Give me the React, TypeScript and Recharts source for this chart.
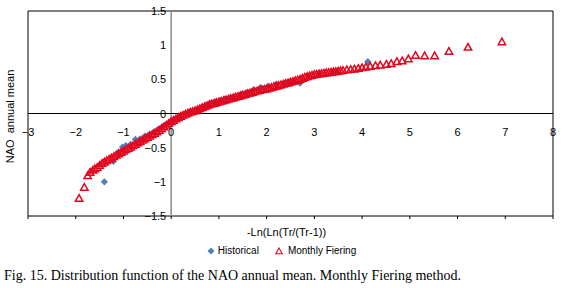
import { ScatterChart, Scatter, XAxis, YAxis, ReferenceLine, ReferenceArea } from "recharts";

const W = 563;
const CHART_H = 262;
const AXIS_SIZE = 1;
const MARGIN = { top: 11, right: 10, bottom: 46 - AXIS_SIZE, left: 28 - AXIS_SIZE };
const PLOT_LEFT = MARGIN.left + AXIS_SIZE;
const PLOT_W = W - PLOT_LEFT - MARGIN.right;
const PLOT_H = CHART_H - MARGIN.top - MARGIN.bottom - AXIS_SIZE;

const X_DOMAIN: [number, number] = [-3, 8];
const Y_DOMAIN: [number, number] = [-1.5, 1.5];
const X_TICKS = [-3, -2, -1, 0, 1, 2, 3, 4, 5, 6, 7, 8];
const Y_TICKS = [-1.5, -1, -0.5, 0, 0.5, 1, 1.5];

const X_TITLE = "-Ln(Ln(Tr/(Tr-1))";
const Y_TITLE = "NAO  annual mean";
const CAPTION = "Fig. 15. Distribution function of the NAO annual mean. Monthly Fiering method.";

const BLUE = "#4F81BD";
const RED = "#E3061C";
const FONT = "'Liberation Sans', Arial, sans-serif";

// Historical series (blue diamonds)
const historicalX = [
  -1.4, -1.21, -1.1, -1.02, -0.95, -0.85, -0.75, -0.65, -0.55, -0.45, -0.36, -0.27, -0.18, -0.1,
  -0.02, 0.06, 0.14, 0.22, 0.3, 0.38, 0.46, 0.55, 0.64, 0.73, 0.82, 0.92, 1.02, 1.12, 1.23, 1.35,
  1.47, 1.6, 1.73, 1.87, 2.03, 2.2, 2.39, 2.55, 2.7, 2.88, 3.1, 3.42, 4.12,
];
const historicalY = [
  -1.0, -0.7, -0.56, -0.49, -0.47, -0.45, -0.38, -0.37, -0.33, -0.3, -0.27, -0.23, -0.19, -0.16,
  -0.12, -0.09, -0.06, -0.03, -0.01, 0.02, 0.03, 0.06, 0.09, 0.12, 0.15, 0.17, 0.19, 0.21, 0.23, 0.25,
  0.28, 0.31, 0.35, 0.38, 0.4, 0.43, 0.45, 0.47, 0.445, 0.54, 0.58, 0.61, 0.76,
];

// Monthly Fiering series (red hollow triangles)
const fieringX = [
  -1.93, -1.82, -1.75, -1.7, -1.64, -1.6, -1.55, -1.5, -1.45, -1.4, -1.35, -1.3, -1.25, -1.2, -1.15,
  -1.1, -1.05, -1.0, -0.95, -0.9, -0.85, -0.8, -0.75, -0.7, -0.65, -0.6, -0.55, -0.5, -0.45, -0.4,
  -0.35, -0.3, -0.25, -0.2, -0.15, -0.1, -0.05, 0.0, 0.05, 0.1, 0.15, 0.2, 0.25, 0.3, 0.35, 0.4,
  0.45, 0.5, 0.55, 0.6, 0.65, 0.7, 0.75, 0.8, 0.85, 0.9, 0.95, 1.0, 1.05, 1.1, 1.15, 1.2, 1.25,
  1.3, 1.35, 1.4, 1.45, 1.5, 1.55, 1.6, 1.65, 1.7, 1.75, 1.8, 1.85, 1.9, 1.95, 2.0, 2.05, 2.1,
  2.15, 2.2, 2.25, 2.3, 2.35, 2.4, 2.45, 2.5, 2.55, 2.6, 2.65, 2.7, 2.75, 2.8, 2.85, 2.9, 2.95,
  3.0, 3.05, 3.1, 3.15, 3.2, 3.25, 3.3, 3.35, 3.4, 3.45, 3.5, 3.55, 3.6, 3.68, 3.76, 3.84, 3.92,
  4.0, 4.08, 4.17, 4.28, 4.38, 4.51, 4.61, 4.73, 4.84, 4.97, 5.12, 5.31, 5.52, 5.82, 6.22, 6.93,
];
const fieringY = [
  -1.24, -1.08, -0.91, -0.86, -0.83, -0.81, -0.79, -0.76, -0.73, -0.71, -0.69, -0.67, -0.65, -0.63,
  -0.61, -0.59, -0.57, -0.55, -0.53, -0.51, -0.49, -0.47, -0.45, -0.43, -0.41, -0.39, -0.37, -0.35,
  -0.33, -0.31, -0.29, -0.27, -0.245, -0.22, -0.195, -0.17, -0.145, -0.12, -0.1, -0.08, -0.06, -0.04,
  -0.025, -0.01, 0.005, 0.02, 0.03, 0.04, 0.055, 0.07, 0.085, 0.1, 0.115, 0.13, 0.14, 0.15, 0.16,
  0.17, 0.18, 0.19, 0.2, 0.21, 0.22, 0.23, 0.24, 0.25, 0.26, 0.27, 0.28, 0.29, 0.3, 0.31, 0.32,
  0.33, 0.34, 0.35, 0.355, 0.36, 0.37, 0.38, 0.39, 0.4, 0.41, 0.42, 0.43, 0.44, 0.45, 0.46, 0.47,
  0.48, 0.49, 0.5, 0.515, 0.53, 0.54, 0.55, 0.56, 0.57, 0.575, 0.58, 0.585, 0.59, 0.595, 0.6, 0.605,
  0.61, 0.615, 0.62, 0.625, 0.63, 0.64, 0.645, 0.65, 0.66, 0.67, 0.68, 0.69, 0.7, 0.71, 0.72, 0.73,
  0.76, 0.77, 0.8, 0.85, 0.845, 0.845, 0.91, 0.97, 1.05,
];

const historical = historicalX.map((x, i) => ({ x, y: historicalY[i] }));
const fiering = fieringX.map((x, i) => ({ x, y: fieringY[i] }));

// where the axes cross (0,0) inside the plot box
const zeroX = PLOT_LEFT + (PLOT_W * (0 - X_DOMAIN[0])) / (X_DOMAIN[1] - X_DOMAIN[0]);
const zeroY = MARGIN.top + (PLOT_H * (Y_DOMAIN[1] - 0)) / (Y_DOMAIN[1] - Y_DOMAIN[0]);

const fmt = (v: number) => (v < 0 ? `\u2212${Math.abs(v)}` : String(v));

function XTick(props: any) {
  const { x, payload } = props;
  return (
    <text x={x} y={zeroY + 18} textAnchor="middle" dominantBaseline="central" fontSize={11} fontFamily={FONT} fill="#000">
      {fmt(payload.value)}
    </text>
  );
}

function YTick(props: any) {
  const { y, payload } = props;
  return (
    <text x={zeroX - 5} y={y} textAnchor="end" dominantBaseline="central" fontSize={11} fontFamily={FONT} fill="#000">
      {fmt(payload.value)}
    </text>
  );
}

function Diamond(props: any) {
  const { cx, cy } = props;
  const r = 3.6;
  return <path d={`M${cx},${cy - r}L${cx + r},${cy}L${cx},${cy + r}L${cx - r},${cy}Z`} fill={BLUE} />;
}

function Triangle(props: any) {
  const { cx, cy } = props;
  return (
    <path
      d={`M${cx},${cy - 3.7}L${cx + 3.7},${cy + 2.9}L${cx - 3.7},${cy + 2.9}Z`}
      fill="none"
      stroke={RED}
      strokeWidth={1.5}
    />
  );
}

function YTitle() {
  const x = PLOT_LEFT - 18;
  const y = MARGIN.top + PLOT_H / 2 + 3;
  return (
    <text
      x={x}
      y={y}
      transform={`rotate(-90 ${x} ${y})`}
      textAnchor="middle"
      dominantBaseline="central"
      fontSize={11}
      fontFamily={FONT}
      fill="#000"
      style={{ whiteSpace: "pre" }}
    >
      {Y_TITLE}
    </text>
  );
}

function XTitle() {
  return (
    <text
      x={PLOT_LEFT + PLOT_W / 2 - 4}
      y={MARGIN.top + PLOT_H + 16}
      textAnchor="middle"
      dominantBaseline="central"
      fontSize={11}
      fontFamily={FONT}
      fill="#000"
    >
      {X_TITLE}
    </text>
  );
}

function LegendRow() {
  return (
    <div
      style={{
        position: "absolute",
        top: 245,
        left: 0,
        width: W,
        display: "flex",
        justifyContent: "center",
        alignItems: "center",
        fontFamily: FONT,
        fontSize: 10,
        color: "#000",
      }}
    >
      <svg width={8} height={8} style={{ marginRight: 3 }}>
        <path d="M4,0.5L7.5,4L4,7.5L0.5,4Z" fill={BLUE} />
      </svg>
      <span style={{ marginRight: 16 }}>Historical</span>
      <svg width={8} height={8} style={{ marginRight: 5 }}>
        <path d="M4,1L7.2,6.8L0.8,6.8Z" fill="none" stroke={RED} strokeWidth={1.1} />
      </svg>
      <span>Monthly Fiering</span>
    </div>
  );
}

export default function App() {
  return (
    <div style={{ position: "absolute", left: 0, top: 0, width: W, height: 288, background: "#fff" }}>
      <ScatterChart width={W} height={CHART_H} margin={MARGIN}>
        <XAxis
          type="number"
          dataKey="x"
          domain={X_DOMAIN}
          ticks={X_TICKS}
          height={AXIS_SIZE}
          axisLine={false}
          tickLine={{ stroke: "#000" }}
          tickSize={3}
          tick={XTick}
          interval={0}
          label={{ content: XTitle }}
        />
        <YAxis
          type="number"
          dataKey="y"
          domain={Y_DOMAIN}
          ticks={Y_TICKS}
          width={AXIS_SIZE}
          axisLine={false}
          tickLine={false}
          tick={YTick}
          interval={0}
          label={{ content: YTitle }}
        />
        <ReferenceArea x1={X_DOMAIN[0]} x2={X_DOMAIN[1]} y1={Y_DOMAIN[0]} y2={Y_DOMAIN[1]} fill="none" stroke="#000" strokeWidth={1} fillOpacity={0} />
        <ReferenceLine x={0} stroke="#8C8C8C" strokeWidth={1.5} />
        <ReferenceLine y={0} stroke="#000" strokeWidth={1} />
        <Scatter name="Historical" data={historical} shape={Diamond} isAnimationActive={false} />
        <Scatter name="Monthly Fiering" data={fiering} shape={Triangle} isAnimationActive={false} />
      </ScatterChart>
      <LegendRow />
      <div
        style={{
          position: "absolute",
          top: 268,
          left: 4,
          fontFamily: "'Liberation Serif', 'Times New Roman', serif",
          fontSize: 14,
          lineHeight: "16px",
          color: "#000",
          whiteSpace: "nowrap",
        }}
      >
        {CAPTION}
      </div>
    </div>
  );
}
